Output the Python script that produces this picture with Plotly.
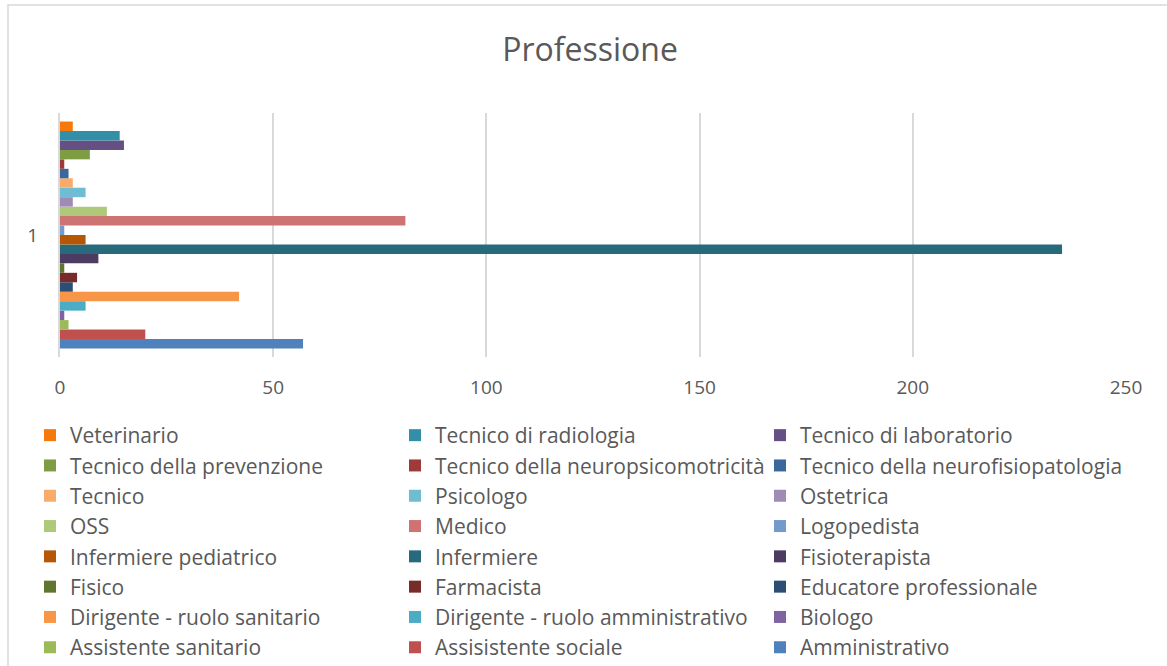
import plotly.graph_objects as go

category = ["1"]
professions = [
    "Amministrativo", "Assisistente sociale", "Assistente sanitario", "Biologo",
    "Dirigente - ruolo amministrativo", "Dirigente - ruolo sanitario",
    "Educatore professionale", "Farmacista", "Fisico", "Fisioterapista",
    "Infermiere", "Infermiere pediatrico", "Logopedista", "Medico", "OSS",
    "Ostetrica", "Psicologo", "Tecnico", "Tecnico della neurofisiopatologia",
    "Tecnico della neuropsicomotricità", "Tecnico della prevenzione",
    "Tecnico di laboratorio", "Tecnico di radiologia", "Veterinario",
]
counts = [57, 20, 2, 1, 6, 42, 3, 4, 1, 9, 235, 6, 1, 81, 11, 3, 6, 3, 2, 1, 7, 15, 14, 3]
colors = [
    "#4F81BD", "#C0504D", "#9BBB59", "#8064A2", "#4BACC6", "#F79646",
    "#2C4D75", "#772C2A", "#5F7530", "#4D3B62", "#276A7C", "#B65708",
    "#729ACA", "#CD7371", "#AFC97A", "#A18AB6", "#6FBDD4", "#F9AB6B",
    "#3A679C", "#9E3B38", "#7E9D43", "#664F83", "#338FA8", "#F57A0B",
]

FONT = "Open Sans"
GREY = "#595959"

W, H = 1167, 666
L, R, T, B = 60, 41, 113, 309
PW, PH = W - L - R, H - T - B

fig = go.Figure()
for name, val, col in zip(professions, counts, colors):
    fig.add_trace(go.Bar(
        y=category, x=[val], name=name, orientation="h",
        marker=dict(color=col, line=dict(width=0)),
    ))

fig.update_layout(
    width=W, height=H,
    barmode="group", bargap=0.07, bargroupgap=0,
    paper_bgcolor="white", plot_bgcolor="white",
    margin=dict(l=L, r=R, t=T, b=B, autoexpand=False),
    font=dict(family=FONT, color=GREY),
    title=dict(text="Professione", x=(590 - L) / PW, xref="paper", xanchor="center",
               y=1 - 50 / H, yanchor="middle",
               font=dict(size=32, color=GREY, family=FONT)),
    xaxis=dict(range=[0, 250], dtick=50, showgrid=True, gridcolor="#D9D9D9", gridwidth=2,
               zeroline=False, showline=False, ticks="", ticklabelstandoff=17,
               tickfont=dict(size=19, color=GREY), automargin=False),
    yaxis=dict(showgrid=False, zeroline=False, showline=True, linecolor="#D9D9D9", linewidth=2,
               ticks="", ticklabelstandoff=16, tickfont=dict(size=19, color=GREY),
               automargin=False),
    legend=dict(orientation="h", traceorder="reversed",
                x=(30 - L) / PW, xanchor="left",
                y=-(415 - (T + PH)) / PH, yanchor="top",
                entrywidth=320, entrywidthmode="pixels",
                font=dict(size=21, color=GREY, family=FONT), itemwidth=30,
                bgcolor="rgba(0,0,0,0)"),
    shapes=[dict(type="rect", xref="paper", yref="paper",
                 x0=(8 - L) / PW, x1=(1180 - L) / PW,
                 y0=((T + PH) - 690) / PH, y1=((T + PH) - 5) / PH,
                 line=dict(color="#D9D9D9", width=1.5), fillcolor="rgba(0,0,0,0)", layer="below")],
)

fig.write_html("out.html", config={"displayModeBar": False},
               post_script="document.body.style.margin='0';")
